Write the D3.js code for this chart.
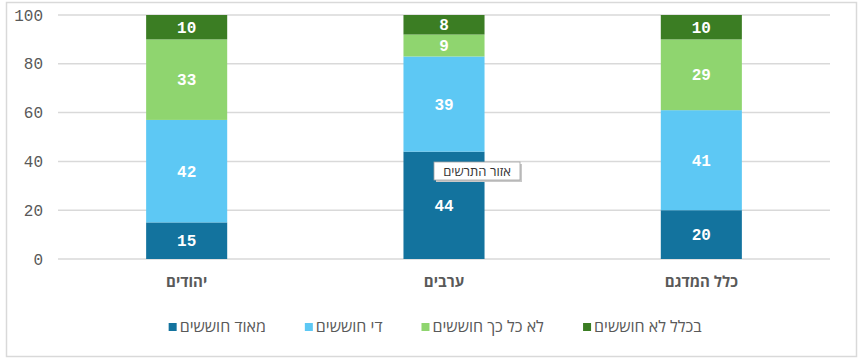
<!DOCTYPE html>
<html>
<head>
<meta charset="utf-8">
<script src="https://cdn.jsdelivr.net/npm/d3@7"></script>
<style>
  body { margin: 0; background: #fff; }
  svg { display: block; }
</style>
</head>
<body>
<div id="chart"></div>
<script>
// chart data
const categories = ["יהודים", "ערבים", "כלל המדגם"];
const seriesNames = ["מאוד חוששים", "די חוששים", "לא כל כך חוששים", "בכלל לא חוששים"];
const veryWorried = [15, 44, 20];
const quiteWorried = [42, 39, 41];
const notSoWorried = [33, 9, 29];
const notAtAll = [10, 8, 10];
const yTicks = [0, 20, 40, 60, 80, 100];

const colors = ["#13739e", "#5dc8f4", "#8fd56f", "#3b7d23"];

const width = 863, height = 363;
const margin = { left: 58, right: 33, top: 15, bottom: 104 };

const svg = d3.select("#chart").append("svg")
    .attr("width", width)
    .attr("height", height);

// outer frame
svg.append("rect")
    .attr("x", 6.5).attr("y", 2.5)
    .attr("width", 850).attr("height", 354)
    .attr("fill", "none")
    .attr("stroke", "#d9d9d9")
    .attr("stroke-width", 1.5);

const x = d3.scaleBand()
    .domain(categories)
    .range([margin.left, width - margin.right])
    .paddingInner(0.685)
    .paddingOuter(0.3425);

const y = d3.scaleLinear()
    .domain([0, 100])
    .range([height - margin.bottom, margin.top]);

// gridlines
svg.append("g")
    .selectAll("line")
    .data(yTicks)
    .enter().append("line")
    .attr("x1", margin.left)
    .attr("x2", width - margin.right)
    .attr("y1", d => y(d))
    .attr("y2", d => y(d))
    .attr("stroke", "#d9d9d9")
    .attr("stroke-width", 1.5);

// y tick labels
svg.append("g")
    .selectAll("text")
    .data(yTicks)
    .enter().append("text")
    .attr("x", 43)
    .attr("y", d => y(d))
    .attr("dy", "0.35em")
    .attr("text-anchor", "end")
    .attr("font-family", "'Liberation Mono', 'Courier New', monospace")
    .attr("font-size", 16)
    .attr("fill", "#595959")
    .text(d => d);

// stack the series
const rows = categories.map((c, i) => ({
    cat: c,
    s0: veryWorried[i], s1: quiteWorried[i], s2: notSoWorried[i], s3: notAtAll[i]
}));
const stack = d3.stack().keys(["s0", "s1", "s2", "s3"]);
const layers = stack(rows);

const layerG = svg.selectAll(".layer")
    .data(layers)
    .enter().append("g")
    .attr("class", "layer")
    .attr("fill", (d, i) => colors[i]);

layerG.selectAll("rect")
    .data(d => d)
    .enter().append("rect")
    .attr("x", d => x(d.data.cat))
    .attr("y", d => y(d[1]))
    .attr("width", x.bandwidth())
    .attr("height", d => y(d[0]) - y(d[1]));

layerG.selectAll("text")
    .data(d => d)
    .enter().append("text")
    .attr("x", d => x(d.data.cat) + x.bandwidth() / 2)
    .attr("y", d => (y(d[0]) + y(d[1])) / 2)
    .attr("dy", "0.35em")
    .attr("text-anchor", "middle")
    .attr("font-family", "'Liberation Mono', 'Courier New', monospace")
    .attr("font-weight", "bold")
    .attr("font-size", 16)
    .attr("fill", "#fff")
    .text(d => d[1] - d[0]);

// category labels
svg.append("g")
    .selectAll("text")
    .data(categories)
    .enter().append("text")
    .attr("x", d => x(d) + x.bandwidth() / 2)
    .attr("y", 287)
    .attr("text-anchor", "middle")
    .attr("font-family", "'Open Sans', 'DejaVu Sans', sans-serif")
    .attr("font-weight", "bold")
    .attr("font-size", 15)
    .attr("fill", "#595959")
    .text(d => d);

// legend
const legend = svg.append("g");
const items = legend.selectAll("g")
    .data(seriesNames)
    .enter().append("g");
items.append("rect")
    .attr("width", 8).attr("height", 8)
    .attr("y", -9)
    .attr("fill", (d, i) => colors[i]);
items.append("text")
    .attr("x", 11)
    .attr("font-family", "'Open Sans', 'DejaVu Sans', sans-serif")
    .attr("font-size", 16)
    .attr("fill", "#595959")
    .text(d => d);

const gap = 39;
let lx = 0;
items.each(function () {
    const w = this.getBBox().width;
    d3.select(this).attr("transform", `translate(${lx},0)`);
    lx += w + gap;
});
const total = lx - gap;
legend.attr("transform", `translate(${435.5 - total / 2},332)`);

// tooltip-like label left over from the screenshot
const tip = svg.append("g").attr("transform", "translate(434,162)");
tip.append("rect")
    .attr("x", 2).attr("y", 2)
    .attr("width", 86).attr("height", 18)
    .attr("fill", "#c8c8c8");
tip.append("rect")
    .attr("width", 86).attr("height", 18)
    .attr("fill", "#fff")
    .attr("stroke", "#a0a0a0")
    .attr("stroke-width", 0.8);
tip.append("text")
    .attr("x", 43).attr("y", 13.5)
    .attr("text-anchor", "middle")
    .attr("font-family", "'Open Sans', 'DejaVu Sans', sans-serif")
    .attr("font-size", 13)
    .attr("fill", "#333")
    .text("אזור התרשים");
</script>
</body>
</html>
